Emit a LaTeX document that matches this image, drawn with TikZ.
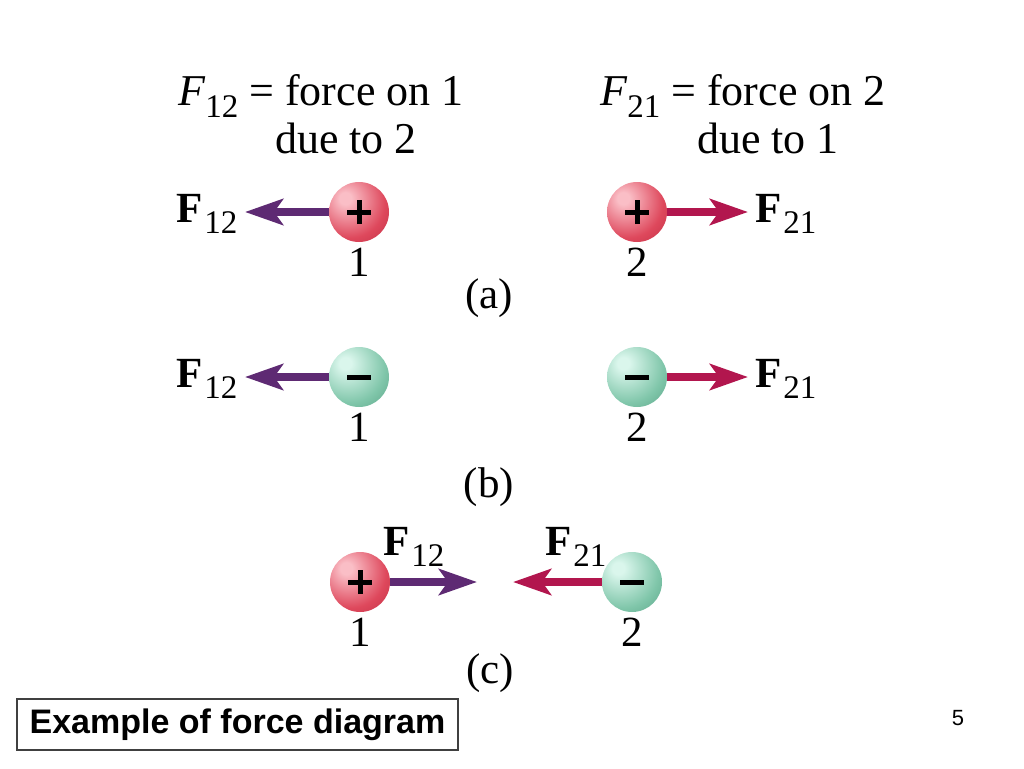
\documentclass[tikz,border=0pt]{standalone}
\usepackage{fontspec}
\setmainfont{Liberation Serif}
\newfontfamily\boxfont{Liberation Sans}
\usetikzlibrary{arrows.meta,positioning}

\definecolor{onearrow}{RGB}{94,42,115}
\definecolor{twoarrow}{RGB}{178,22,78}
\definecolor{redhi}{RGB}{250,190,198}
\definecolor{redmid}{RGB}{222,72,92}
\definecolor{redrim}{RGB}{172,30,52}
\definecolor{greenhi}{RGB}{218,246,236}
\definecolor{greenmid}{RGB}{128,198,170}
\definecolor{greenrim}{RGB}{62,140,110}

\pgfdeclareradialshading{redsphere}{\pgfpoint{-12bp}{12bp}}{color(0bp)=(redhi); color(5bp)=(redhi); color(30bp)=(redmid); color(58bp)=(redrim); color(100bp)=(redrim)}
\pgfdeclareradialshading{greensphere}{\pgfpoint{-12bp}{12bp}}{color(0bp)=(greenhi); color(5bp)=(greenhi); color(30bp)=(greenmid); color(58bp)=(greenrim); color(100bp)=(greenrim)}

\newcommand{\boldF}[1]{\textbf{F}\kern2pt\raisebox{-11pt}{\fontsize{33}{33}\selectfont #1}}
\newcommand{\italF}[1]{\textit{F}\raisebox{-12pt}{\fontsize{33}{33}\selectfont #1}}

\begin{document}
\begin{tikzpicture}
  [x=1pt,y=-1pt,node distance=50pt,
   txt/.style={font=\fontsize{43}{48}\selectfont,inner sep=0pt},
   ball/.style={circle,minimum size=60pt,inner sep=0pt},
   pos ball/.style={ball,shading=redsphere,
     path picture={\draw[line width=5pt]
       ([xshift=-12pt]path picture bounding box.center) -- ([xshift=12pt]path picture bounding box.center)
       ([yshift=-12pt]path picture bounding box.center) -- ([yshift=12pt]path picture bounding box.center);}},
   neg ball/.style={ball,shading=greensphere,
     path picture={\draw[line width=5pt]
       ([xshift=-12pt]path picture bounding box.center) -- ([xshift=12pt]path picture bounding box.center);}},
   push one/.style={onearrow,line width=8pt,-{Stealth[length=38pt,width=26pt,inset=9pt]}},
   push two/.style={twoarrow,line width=8pt,-{Stealth[length=38pt,width=26pt,inset=9pt]}}]
  \useasboundingbox (0,0) rectangle (1024,768);

  % definitions
  \node[txt,font=\fontsize{44}{48}\selectfont,anchor=base west] (h1) at (178,105) {\italF{12} = force on 1};
  \node[txt,font=\fontsize{44}{48}\selectfont,anchor=base west] (h1b) at (275,153) {due to 2};
  \node[txt,font=\fontsize{44}{48}\selectfont,anchor=base west] (h2) at (600,105) {\italF{21} = force on 2};
  \node[txt,font=\fontsize{44}{48}\selectfont,anchor=base west] (h2b) at (697,153) {due to 1};

  % (a)
  \node[pos ball] (b1a) at (359,212) {};
  \node[pos ball] (b2a) at (637,212) {};
  \coordinate (t1a) at (245,212);
  \coordinate (t2a) at (748,212);
  \draw[push one] (b1a) -- (t1a);
  \draw[push two] (b2a) -- (t2a);
  \node[txt,anchor=base west] (f1a) at (176,222) {\boldF{12}};
  \node[txt,anchor=base west] (f2a) at (755,222) {\boldF{21}};
  \node[txt,below of=b1a] (n1a) {1};
  \node[txt,below of=b2a] (n2a) {2};
  \node[txt] (la) at (489,298) {(a)};

  % (b)
  \node[neg ball] (b1b) at (359,377) {};
  \node[neg ball] (b2b) at (637,377) {};
  \coordinate (t1b) at (245,377);
  \coordinate (t2b) at (748,377);
  \draw[push one] (b1b) -- (t1b);
  \draw[push two] (b2b) -- (t2b);
  \node[txt,anchor=base west] (f1b) at (176,387) {\boldF{12}};
  \node[txt,anchor=base west] (f2b) at (755,387) {\boldF{21}};
  \node[txt,below of=b1b] (n1b) {1};
  \node[txt,below of=b2b] (n2b) {2};
  \node[txt] (lb) at (489,487) {(b)};

  % (c)
  \node[pos ball] (b1c) at (360,582) {};
  \node[neg ball] (b2c) at (632,582) {};
  \coordinate (t1c) at (477,582);
  \coordinate (t2c) at (513,582);
  \draw[push one] (b1c) -- (t1c);
  \draw[push two] (b2c) -- (t2c);
  \node[txt,anchor=base west] (f1c) at (383,555) {\boldF{12}};
  \node[txt,anchor=base west] (f2c) at (545,555) {\boldF{21}};
  \node[txt,below of=b1c] (n1c) {1};
  \node[txt,below of=b2c] (n2c) {2};
  \node[txt] (lc) at (490,673) {(c)};

  % caption box and page number
  \node[draw=black!75,line width=1.5pt,minimum width=441pt,minimum height=51pt,inner sep=0pt,
        font=\boxfont\bfseries\fontsize{34}{40}\selectfont] (cap) at (237.5,724.5) {Example of force diagram};
  \node[font=\boxfont\fontsize{22}{26}\selectfont] (pg) at (958,718) {5};
\end{tikzpicture}
\end{document}
